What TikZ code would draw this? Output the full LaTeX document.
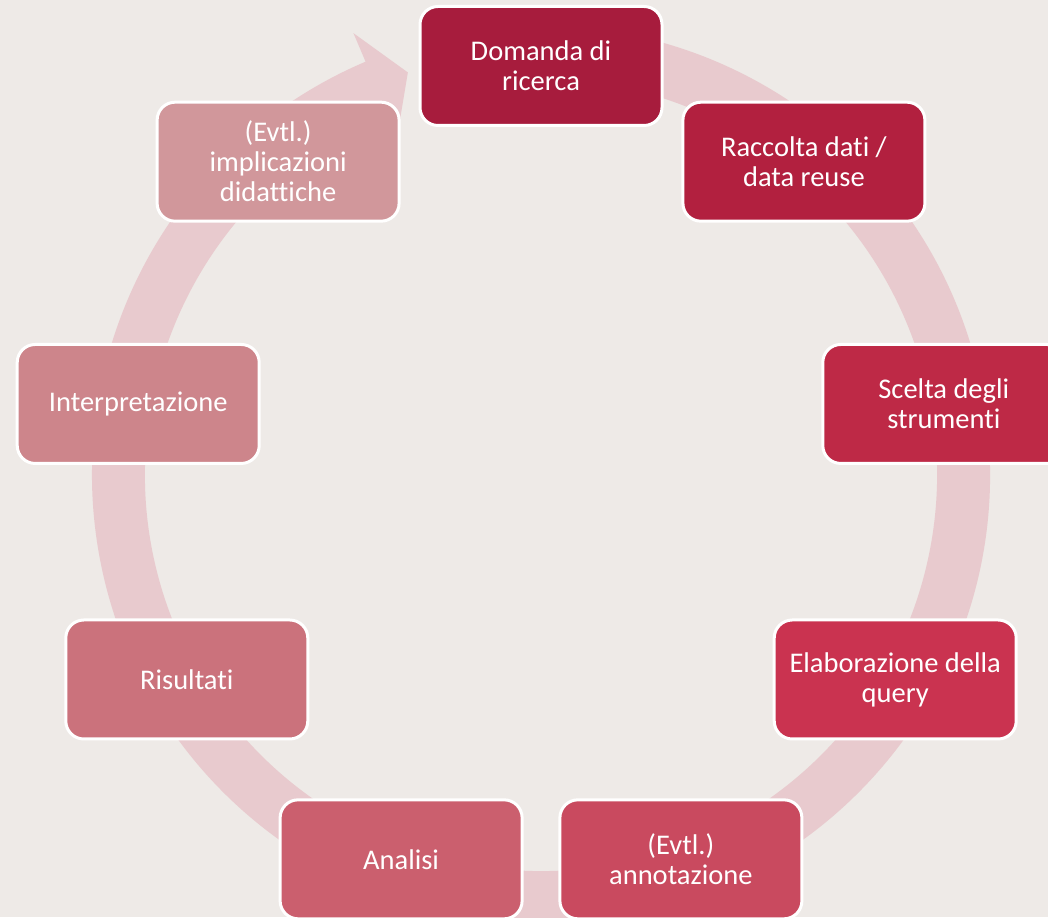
\documentclass[tikz,border=0pt]{standalone}
\usepackage{fontspec}
\setmainfont{Carlito}[RawFeature={-liga;-clig;-dlig}]
\definecolor{paper}{HTML}{EEEAE7}
\definecolor{bandcolor}{HTML}{E8CACE}
\newcommand\stagefont{\fontsize{28.5}{30}\selectfont}
\begin{document}
\begin{tikzpicture}[x=1pt,y=1pt,
  stage/.style={draw=white, line width=3pt, fill=stagecolor, rounded corners=18pt,
    minimum width=242pt, minimum height=119pt, align=center, text=white, font=\stagefont}]
\pgfmathsetmacro\cx{541};
\pgfmathsetmacro\cy{442};
\pgfmathsetmacro\rad{409};
\pgfmathsetmacro\rout{449};
\pgfmathsetmacro\rin{396};
\fill[paper] (0,0) rectangle (1048,917);
\useasboundingbox (0,0) rectangle (1048,917);
\begin{scope}[shift={(\cx,\cy)}]
% circular arrow behind the stages
\fill[bandcolor] (100:\rout) arc[start angle=100, end angle=-247, radius=\rout]
  -- (113:480) -- (108.3:424) -- (113:368)
  -- (113:\rin) arc[start angle=-247, end angle=100, radius=\rin] -- cycle;
\definecolor{stagecolor}{HTML}{A71C3D}
\node[stage] (domanda) at (90:\rad) {Domanda di\\ricerca};
\definecolor{stagecolor}{HTML}{B2203F}
\node[stage] (raccolta) at (50:\rad) {Raccolta dati /\\data reuse};
\definecolor{stagecolor}{HTML}{BE2946}
\node[stage] (scelta) at (10:\rad) {Scelta degli\\strumenti};
\definecolor{stagecolor}{HTML}{CA3350}
\node[stage] (query) at (-30:\rad) {Elaborazione della\\query};
\definecolor{stagecolor}{HTML}{C94A5F}
\node[stage] (annotazione) at (-70:\rad) {(Evtl.)\\annotazione};
\definecolor{stagecolor}{HTML}{CB5F6E}
\node[stage] (analisi) at (-110:\rad) {Analisi};
\definecolor{stagecolor}{HTML}{CB727C}
\node[stage] (risultati) at (-150:\rad) {Risultati};
\definecolor{stagecolor}{HTML}{CD858B}
\node[stage] (interpretazione) at (170:\rad) {Interpretazione};
\definecolor{stagecolor}{HTML}{D1979B}
\node[stage] (implicazioni) at (130:\rad) {(Evtl.)\\implicazioni\\didattiche};
\end{scope}
\end{tikzpicture}
\end{document}
